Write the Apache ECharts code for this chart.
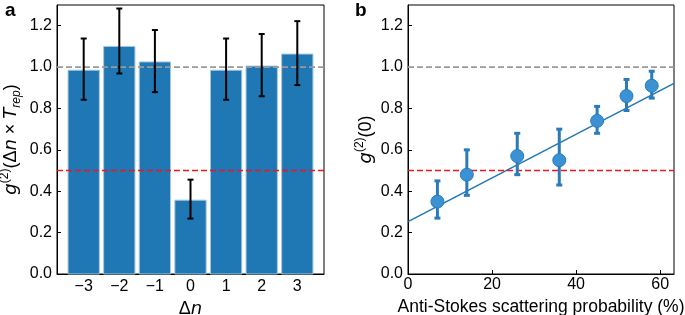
<!DOCTYPE html>
<html>
<head>
<meta charset="utf-8">
<script src="https://cdn.jsdelivr.net/npm/echarts@6/dist/echarts.min.js"></script>
<style>
  html, body { margin: 0; padding: 0; background: #fff; }
  #chart { width: 685px; height: 315px; }
</style>
</head>
<body>
<div id="chart"></div>
<script>
// panel a: g2 vs delta n
const shifts = [-3, -2, -1, 0, 1, 2, 3];
const g2Bars = [0.985, 1.10, 1.025, 0.357, 0.985, 1.005, 1.063];
const g2BarLow = [0.842, 0.969, 0.879, 0.268, 0.842, 0.859, 0.913];
const g2BarHigh = [1.138, 1.283, 1.179, 0.456, 1.138, 1.160, 1.222];

// panel b: g2(0) vs anti-stokes probability
const probs = [7, 14, 26, 36, 45, 52, 58];
const g2Zero = [0.35, 0.48, 0.57, 0.55, 0.74, 0.86, 0.91];
const g2ZeroLow = [0.27, 0.38, 0.48, 0.43, 0.68, 0.79, 0.85];
const g2ZeroHigh = [0.45, 0.60, 0.68, 0.70, 0.81, 0.94, 0.98];
const fitX = [0, 63.3];
const fitY = [0.253, 0.921];

const yTicks = [0, 0.2, 0.4, 0.6, 0.8, 1.0, 1.2];
const probTicks = [0, 20, 40, 60];

const FONT = 'Liberation Sans, Arial, sans-serif';
const BLUE = '#1f77b4';
const TICK_FS = 16;

const chart = echarts.init(document.getElementById('chart'));

const labelRich = {
    i: { fontSize: 18, fontStyle: 'italic', fontFamily: 'DejaVu Sans', color: '#000', lineHeight: 24 },
    n: { fontSize: 18, fontFamily: FONT, color: '#000', lineHeight: 24 },
    sup: { fontSize: 12, fontFamily: FONT, color: '#000', verticalAlign: 'top', lineHeight: 24 },
    sub: { fontSize: 12, fontStyle: 'italic', fontFamily: FONT, color: '#000', verticalAlign: 'bottom', lineHeight: 20 }
};

function yAxisCfg(gridIndex, name, gap) {
    return {
        type: 'value', gridIndex, min: 0, max: 1.3,
        axisLine: { show: true, onZero: false, lineStyle: { color: '#000', width: 1 } },
        axisTick: { show: true, inside: true, length: 4, customValues: yTicks, lineStyle: { color: '#000' } },
        axisLabel: { customValues: yTicks, formatter: v => v.toFixed(1), color: '#000', fontSize: TICK_FS, fontFamily: FONT, margin: 5 },
        splitLine: { show: false },
        name, nameLocation: 'middle', nameGap: gap, nameRotate: 90,
        nameTextStyle: { rich: labelRich }
    };
}

function errorBars(xs, lows, highs, color, width, cap) {
    return {
        type: 'custom',
        data: xs.map((x, i) => [x, lows[i], highs[i]]),
        renderItem: (params, api) => {
            const lo = api.coord([api.value(0), api.value(1)]);
            const hi = api.coord([api.value(0), api.value(2)]);
            const st = { stroke: color, lineWidth: width };
            return {
                type: 'group',
                children: [
                    { type: 'line', shape: { x1: lo[0], y1: lo[1], x2: hi[0], y2: hi[1] }, style: st },
                    { type: 'line', shape: { x1: lo[0] - cap, y1: lo[1], x2: lo[0] + cap, y2: lo[1] }, style: st },
                    { type: 'line', shape: { x1: hi[0] - cap, y1: hi[1], x2: hi[0] + cap, y2: hi[1] }, style: st }
                ]
            };
        },
        z: 5
    };
}

function refLines(xAxisIndex, yAxisIndex, xmin, xmax) {
    return [
        { type: 'line', xAxisIndex, yAxisIndex, data: [[xmin, 1], [xmax, 1]], symbol: 'none',
          lineStyle: { color: '#999', width: 1.6, type: [6, 3] }, z: 4, silent: true },
        { type: 'line', xAxisIndex, yAxisIndex, data: [[xmin, 0.5], [xmax, 0.5]], symbol: 'none',
          lineStyle: { color: '#f0141c', width: 1.5, type: [6, 3] }, z: 4, silent: true }
    ];
}

const option = {
    animation: false,
    textStyle: { fontFamily: FONT },
    title: [
        { text: 'a', left: 0, top: -4, textStyle: { fontSize: 19, fontWeight: 'bold', color: '#000', fontFamily: FONT } },
        { text: 'b', left: 350, top: -4, textStyle: { fontSize: 19, fontWeight: 'bold', color: '#000', fontFamily: FONT } }
    ],
    grid: [
        { left: 57, right: 361, top: 5, bottom: 41, show: true, borderColor: '#000', borderWidth: 1, containLabel: false, outerBoundsMode: 'none' },
        { left: 408, right: 11, top: 5, bottom: 41, show: true, borderColor: '#000', borderWidth: 1, containLabel: false, outerBoundsMode: 'none' }
    ],
    xAxis: [
        {
            type: 'value', gridIndex: 0, min: -3.75, max: 3.75,
            axisLine: { show: true, onZero: false, lineStyle: { color: '#000' } },
            axisTick: { show: true, inside: true, length: 4, customValues: shifts, lineStyle: { color: '#000' } },
            axisLabel: { customValues: shifts, formatter: v => (v < 0 ? '\u2212' + (-v) : '' + v), color: '#000', fontSize: TICK_FS, fontFamily: FONT, margin: 5 },
            splitLine: { show: false },
            name: '{n|Δ}{i|n}', nameLocation: 'middle', nameGap: 17,
            nameTextStyle: { rich: labelRich }
        },
        {
            type: 'value', gridIndex: 1, min: 0, max: 63.3,
            axisLine: { show: true, onZero: false, lineStyle: { color: '#000' } },
            axisTick: { show: true, inside: true, length: 4, customValues: probTicks, lineStyle: { color: '#000' } },
            axisLabel: { customValues: probTicks, color: '#000', fontSize: TICK_FS, fontFamily: FONT, margin: 3 },
            splitLine: { show: false },
            name: 'Anti-Stokes scattering probability (%)', nameLocation: 'middle', nameGap: 20,
            nameTextStyle: { fontSize: 17.5, color: '#000', fontFamily: FONT }
        }
    ],
    yAxis: [
        yAxisCfg(0, '{i|g}{sup|(2)}{n|(Δ}{i|n}{n| × }{i|T}{sub|rep}{n|)}', 34),
        yAxisCfg(1, '{i|g}{sup|(2)}{n|(0)}', 30)
    ],
    series: [
        {
            type: 'custom', xAxisIndex: 0, yAxisIndex: 0,
            data: shifts.map((s, i) => [s, g2Bars[i]]),
            renderItem: (params, api) => {
                const top = api.coord([api.value(0), api.value(1)]);
                const base = api.coord([api.value(0), 0]);
                const w = api.size([0.88, 0])[0];
                return {
                    type: 'rect',
                    shape: { x: top[0] - w / 2, y: top[1], width: w, height: base[1] - top[1] },
                    style: { fill: BLUE, stroke: '#a9c9e2', lineWidth: 1 }
                };
            },
            z: 2
        },
        ...refLines(0, 0, -3.75, 3.75),
        Object.assign(errorBars(shifts, g2BarLow, g2BarHigh, '#000', 2, 3), { xAxisIndex: 0, yAxisIndex: 0 }),

        ...refLines(1, 1, 0, 63.3),
        {
            type: 'line', xAxisIndex: 1, yAxisIndex: 1,
            data: fitX.map((x, i) => [x, fitY[i]]), symbol: 'none',
            lineStyle: { color: BLUE, width: 1.5 }, z: 3
        },
        Object.assign(errorBars(probs, g2ZeroLow, g2ZeroHigh, '#2b7bba', 3, 3), { xAxisIndex: 1, yAxisIndex: 1 }),
        {
            type: 'scatter', xAxisIndex: 1, yAxisIndex: 1,
            data: probs.map((p, i) => [p, g2Zero[i]]),
            symbolSize: 13,
            itemStyle: { color: '#3a92d5', borderColor: '#2b7bba', borderWidth: 1, opacity: 1 },
            z: 6
        }
    ]
};

chart.setOption(option);
</script>
</body>
</html>
